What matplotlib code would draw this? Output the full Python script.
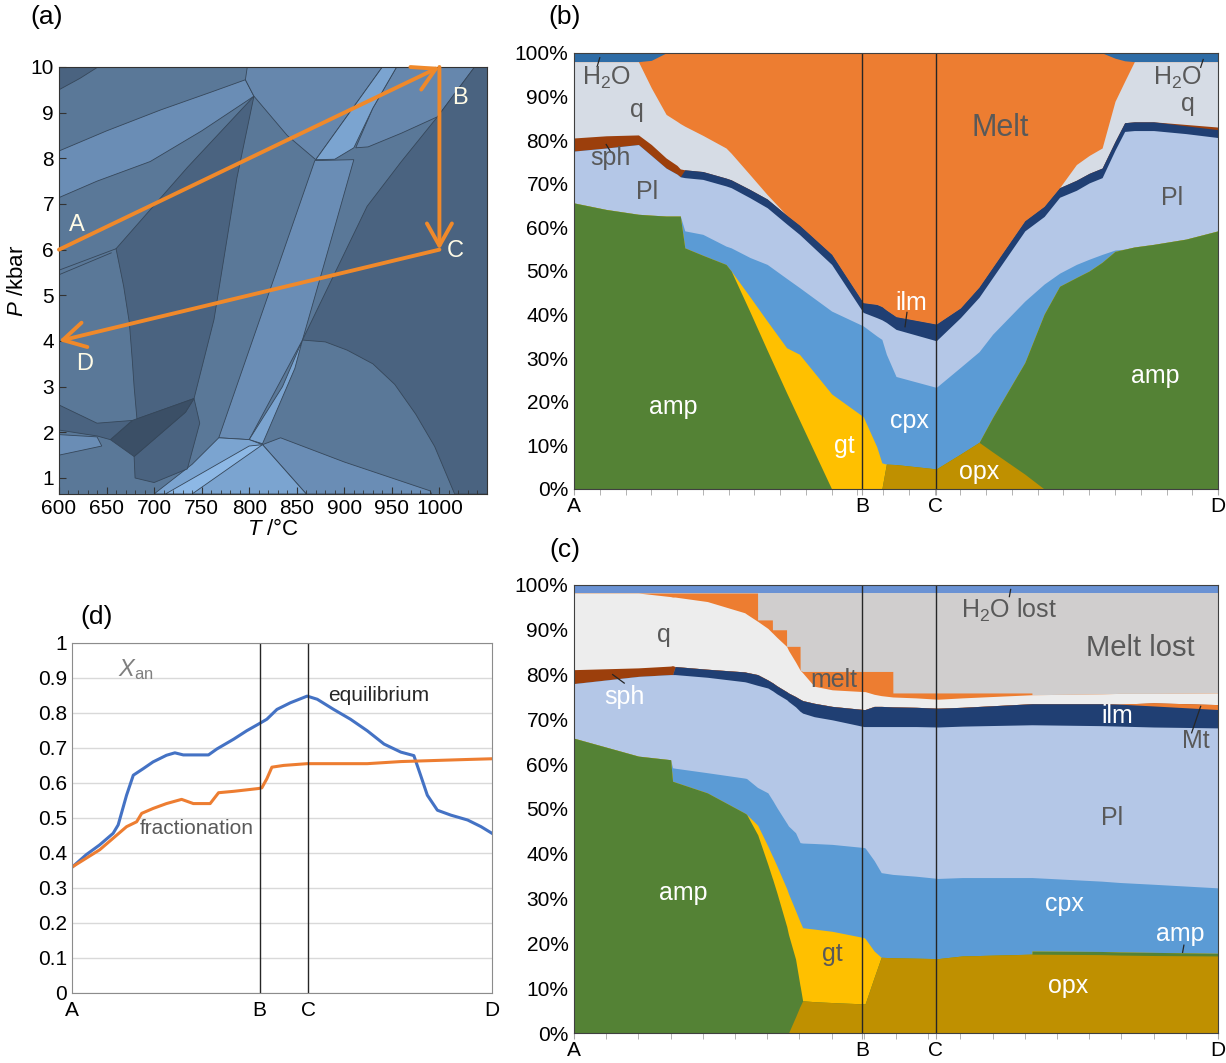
import numpy as np
import matplotlib
matplotlib.use('Agg')
import matplotlib.pyplot as plt
from matplotlib.patches import Polygon
from matplotlib.ticker import MultipleLocator

plt.rcParams['font.family'] = ['Liberation Sans', 'DejaVu Sans']
plt.rcParams['mathtext.fontset'] = 'custom'
plt.rcParams['mathtext.rm'] = 'Liberation Sans'
plt.rcParams['mathtext.it'] = 'Liberation Sans:italic'

# ---------------------------------------------------------------- (a) pseudosection
# shades of the phase fields
c_darkest = '#3b4f66'
c_dark = '#4a6380'
c_mid = '#5a7898'
c_midlight = '#6687ad'
c_light = '#6a8db5'
c_lighter = '#7ba4d0'
c_lightest = '#8db8e5'

# field outlines (T in degC, P in kbar)
fields = [
    (c_dark, [(600, 10), (641, 10), (622, 9.75), (600, 9.5)]),
    (c_light, [(600, 8.16), (650, 8.6), (707, 9.06), (760, 9.45), (796, 9.72), (805, 9.36),
               (750, 8.6), (696, 7.93), (640, 7.5), (600, 7.14)]),
    (c_midlight, [(798, 10), (940, 10), (870, 7.97), (840, 8.5), (805, 9.36), (796, 9.72)]),
    (c_dark, [(660, 6.02), (735, 7.8), (805, 9.36), (787, 7.56), (763, 4.47), (742, 2.74),
              (682, 2.29), (679, 3.0), (677, 3.6), (674, 4.4), (668, 5.2)]),
    (c_midlight, [(955, 10), (1037, 10), (998, 8.91), (960, 8.55), (925, 8.25), (912, 8.23),
                  (930, 9.1)]),
    (c_lighter, [(870, 7.97), (940, 10), (955, 10), (930, 9.1), (910, 8.23), (890, 7.98)]),
    (c_light, [(869, 7.95), (910, 7.97), (890, 6.5), (856, 4.02), (800, 1.84), (768, 1.88)]),
    (c_lighter, [(856, 4.02), (848, 3.4), (814, 1.75), (800, 1.84), (835, 3.0)]),
    (c_dark, [(1051, 10), (1037, 10), (998, 8.91), (960, 7.93), (924, 6.95), (856, 4.02),
              (880, 3.98), (903, 3.8), (930, 3.5), (953, 3.05), (975, 2.4), (995, 1.69),
              (1016, 0.65), (1051, 0.65)]),
    (c_light, [(814, 1.73), (833, 1.88), (900, 1.35), (990, 0.72), (992, 0.65), (860, 0.65)]),
    (c_lighter, [(768, 1.88), (800, 1.84), (814, 1.73), (860, 0.65), (700, 0.65), (740, 1.3)]),
    (c_lightest, [(712, 0.65), (800, 1.7), (814, 1.73), (740, 0.65)]),
    (c_dark, [(679, 1.47), (733, 2.44), (742, 2.74), (748, 2.2), (735, 1.2), (700, 0.9),
              (680, 1.0)]),
    (c_darkest, [(654, 1.84), (677, 2.26), (742, 2.74), (733, 2.44), (679, 1.47)]),
    (c_dark, [(600, 2.6), (640, 2.2), (677, 2.26), (654, 1.84), (640, 1.92), (600, 2.05)]),
    (c_light, [(600, 1.95), (640, 1.9), (645, 1.7), (600, 1.5)]),
]

# P-T path A -> B -> C -> D
path_T = [600, 1000, 1000, 600]
path_P = [6, 10, 6, 4]
path_names = ['A', 'B', 'C', 'D']

# ---------------------------------------------------------------- common x axis
pos_B, pos_C = 0.447, 0.562
path_ticks = [0, pos_B, pos_C, 1]

# ---------------------------------------------------------------- (b) equilibrium modes
# upper boundary of each field, cumulative %
xb = [0, 0.05, 0.10, 0.12, 0.143, 0.160, 0.165, 0.172, 0.20, 0.236, 0.244, 0.273, 0.30,
      0.33, 0.35, 0.40, 0.449, 0.47, 0.478, 0.485, 0.50, 0.5625, 0.60, 0.629, 0.65, 0.70,
      0.73, 0.754, 0.78, 0.80, 0.82, 0.84, 0.855, 0.87, 0.90, 0.95, 1.0]
b_opx = [0, 0, 0, 0, 0, 0, 0, 0, 0, 0, 0, 0, 0, 0, 0, 0, 0, 0, 0, 5.7, 5.6, 4.6, 8.0, 10.7,
         8.5, 3.4, 0, 0, 0, 0, 0, 0, 0, 0, 0, 0, 0]
b_amp = [65.6, 64.1, 63.0, 62.8, 62.6, 62.6, 62.6, 55.3, 53.6, 51.5, 50.0, 40.7, 31.8, 22.1,
         15.8, 0, 0, 0, 0, 5.7, 5.6, 4.6, 8.0, 10.7, 16.4, 29.0, 40.1, 46.5, 48.5, 50.0,
         52.0, 54.5, 55.0, 55.5, 56.1, 57.3, 59.2]
b_gt = [65.6, 64.1, 63.0, 62.8, 62.6, 62.6, 62.6, 55.3, 53.6, 51.5, 50.0, 44.1, 38.5, 32.4,
        30.9, 21.8, 16.6, 9.7, 6.0, 5.7, 5.6, 4.6, 8.0, 10.7, 16.4, 29.0, 40.1, 46.5, 48.5,
        50.0, 52.0, 54.5, 55.0, 55.5, 56.1, 57.3, 59.2]
b_cpx = [65.6, 64.1, 63.0, 62.8, 62.6, 62.6, 62.6, 59.2, 58.4, 55.7, 55.3, 53.1, 51.5, 48.3,
         46.2, 40.8, 37.4, 35.1, 34.3, 30.9, 25.8, 23.3, 27.9, 31.5, 35.5, 43.1, 47.0, 49.5,
         51.5, 52.7, 53.8, 54.8, 55.0, 55.5, 56.1, 57.3, 59.2]
b_pl = [77.5, 78.2, 79.0, 76.5, 73.6, 72.2, 71.6, 71.4, 71.0, 69.5, 69.1, 66.8, 64.5, 60.8,
        58.4, 51.5, 40.5, 39.3, 38.8, 38.2, 36.6, 34.0, 39.3, 44.0, 48.5, 59.2, 62.5, 66.9,
        68.5, 70.2, 71.4, 77.7, 82.0, 82.2, 82.2, 81.5, 80.6]
b_ilm = [77.5, 78.2, 79.0, 76.5, 73.6, 72.2, 71.6, 73.2, 72.8, 71.3, 70.9, 68.7, 66.5, 62.8,
         60.5, 53.8, 42.7, 42.3, 41.8, 41.0, 39.5, 37.8, 41.5, 46.3, 50.8, 61.5, 64.8, 69.1,
         70.8, 72.4, 73.6, 79.7, 84.0, 84.2, 84.2, 83.3, 82.4]
b_sph = [80.5, 81.0, 81.2, 79.0, 75.9, 74.2, 73.4, 73.2, 72.8, 71.3, 70.9, 68.7, 66.5, 62.8,
         60.5, 53.8, 42.7, 42.3, 41.8, 41.0, 39.5, 37.8, 41.5, 46.3, 50.8, 61.5, 64.8, 69.1,
         70.8, 72.4, 73.6, 79.7, 84.0, 84.2, 84.2, 83.6, 83.0]
b_q = [98.0, 98.0, 98.0, 92.0, 85.9, 84.3, 83.8, 83.2, 81.1, 78.2, 77.0, 72.1, 67.5, 62.8,
       60.5, 53.8, 42.7, 42.3, 41.8, 41.0, 39.5, 37.8, 41.5, 46.3, 50.8, 61.5, 64.8, 69.1,
       74.4, 76.5, 78.2, 88.9, 93.5, 98.0, 98.0, 98.0, 98.0]
b_melt = [98.0, 98.0, 98.0, 98.3, 100, 100, 100, 100, 100, 100, 100, 100, 100, 100, 100, 100,
          100, 100, 100, 100, 100, 100, 100, 100, 100, 100, 100, 100, 100, 100, 100, 98.8,
          98.2, 98.0, 98.0, 98.0, 98.0]
b_h2o = [100] * len(xb)

# ---------------------------------------------------------------- (c) fractional melting
xc = [0, 0.10, 0.150, 0.153, 0.157, 0.207, 0.265, 0.268, 0.285, 0.2851, 0.301, 0.308,
      0.3081, 0.315, 0.330, 0.3301, 0.333, 0.344, 0.351, 0.3511, 0.355, 0.373, 0.401, 0.450,
      0.452, 0.466, 0.477, 0.495, 0.4951, 0.531, 0.565, 0.603, 0.711, 0.7111, 0.819, 0.847,
      0.90, 1.0]
c_opx = [0, 0, 0, 0, 0, 0, 0, 0, 0, 0, 0, 0, 0, 0, 0, 0, 0, 3.6, 6.0, 6.0, 7.2, 7.0, 6.8,
         6.5, 6.5, 12.4, 16.9, 16.8, 16.8, 16.7, 16.6, 17.2, 17.6, 17.6, 17.5, 17.4, 17.3, 17.2]
c_amp = [65.8, 61.8, 61.0, 56.2, 56.0, 53.6, 49.1, 48.8, 44.3, 44.3, 37.6, 34.5, 34.5, 31.3,
         23.9, 23.9, 22.0, 16.5, 10.5, 10.5, 7.2, 7.0, 6.8, 6.5, 6.5, 12.4, 16.9, 16.8, 16.8,
         16.7, 16.6, 17.2, 17.6, 18.3, 18.2, 18.1, 18.0, 17.8]
c_gt = [65.8, 61.8, 61.0, 56.2, 56.0, 53.6, 49.1, 48.8, 46.4, 46.4, 41.7, 39.5, 39.5, 37.3,
        32.3, 32.3, 31.1, 27.3, 24.8, 24.8, 23.5, 23.2, 22.7, 21.3, 21.1, 18.3, 16.9, 16.8,
        16.8, 16.7, 16.6, 17.2, 17.6, 18.3, 18.2, 18.1, 18.0, 17.8]
c_cpx = [65.8, 61.8, 61.0, 59.2, 59.1, 58.1, 56.9, 56.8, 54.8, 54.8, 53.6, 52.0, 52.0, 50.3,
         46.9, 46.9, 46.2, 44.7, 42.5, 42.5, 42.4, 42.3, 42.1, 41.4, 41.3, 38.5, 35.8, 35.4,
         35.4, 35.0, 34.5, 34.7, 34.7, 34.7, 33.9, 33.6, 33.2, 32.4]
c_pl = [78.0, 79.6, 80.0, 80.0, 80.0, 79.4, 78.4, 78.3, 77.6, 77.6, 77.0, 76.4, 76.4, 75.7,
        74.4, 74.4, 74.0, 72.8, 71.8, 71.8, 71.4, 70.6, 69.9, 68.4, 68.4, 68.4, 68.4, 68.4,
        68.4, 68.4, 68.3, 68.5, 68.8, 68.8, 68.6, 68.5, 68.3, 68.1]
c_ilm = [78.0, 79.6, 80.0, 80.0, 81.8, 81.2, 80.6, 80.5, 80.0, 80.0, 78.8, 78.2, 78.2, 77.5,
         76.2, 76.2, 75.9, 75.1, 74.5, 74.5, 74.2, 73.6, 72.9, 72.2, 72.2, 72.9, 72.9, 72.8,
         72.8, 72.7, 72.5, 72.7, 73.5, 73.5, 73.5, 73.4, 73.0, 72.2]
c_mt = [78.0, 79.6, 80.0, 80.0, 81.8, 81.2, 80.6, 80.5, 80.0, 80.0, 78.8, 78.2, 78.2, 77.5,
        76.2, 76.2, 75.9, 75.1, 74.5, 74.5, 74.2, 73.6, 72.9, 72.2, 72.2, 72.9, 72.9, 72.8,
        72.8, 72.7, 72.5, 72.7, 73.5, 73.5, 73.5, 73.4, 73.7, 73.3]
c_sph = [81.1, 81.5, 81.9, 82.0, 81.8, 81.2, 80.6, 80.5, 80.0, 80.0, 78.8, 78.2, 78.2, 77.5,
         76.2, 76.2, 75.9, 75.1, 74.5, 74.5, 74.2, 73.6, 72.9, 72.2, 72.2, 72.9, 72.9, 72.8,
         72.8, 72.7, 72.5, 72.7, 73.5, 73.5, 73.5, 73.4, 73.7, 73.3]
c_q = [98.2, 98.2, 97.4, 97.3, 97.3, 96.3, 93.8, 93.5, 91.9, 91.9, 90.3, 89.3, 89.3, 88.3,
       86.3, 86.3, 85.4, 82.8, 81.0, 81.0, 80.4, 77.4, 76.6, 76.2, 76.2, 75.6, 75.3, 75.0,
       75.0, 74.8, 74.5, 74.8, 75.5, 75.5, 75.7, 75.8, 75.8, 75.9]
c_melt = [98.2, 98.2, 98.2, 98.2, 98.2, 98.2, 98.2, 98.2, 98.2, 92.2, 92.2, 92.2, 90.0, 90.0,
          90.0, 86.3, 86.3, 86.3, 86.3, 81.0, 80.7, 80.7, 80.7, 80.7, 80.7, 80.7, 80.7, 80.7,
          75.9, 75.9, 75.9, 75.9, 75.9, 75.5, 75.7, 75.8, 75.8, 75.9]
c_lost = [98.2] * len(xc)
c_h2o = [100] * len(xc)

# ---------------------------------------------------------------- (d) X_an of plagioclase
eq_x = [0.002, 0.034, 0.066, 0.098, 0.110, 0.130, 0.146, 0.170, 0.193, 0.225, 0.245, 0.265,
        0.305, 0.325, 0.345, 0.385, 0.416, 0.444, 0.464, 0.488, 0.520, 0.560, 0.584, 0.623,
        0.663, 0.703, 0.743, 0.783, 0.814, 0.830, 0.846, 0.870, 0.902, 0.942, 0.974, 1.0]
eq_xan = [0.361, 0.395, 0.423, 0.456, 0.48, 0.565, 0.622, 0.641, 0.66, 0.679, 0.686, 0.68,
          0.68, 0.68, 0.697, 0.725, 0.749, 0.768, 0.782, 0.81, 0.829, 0.848, 0.839, 0.81,
          0.782, 0.749, 0.711, 0.688, 0.678, 0.622, 0.565, 0.522, 0.508, 0.494, 0.475, 0.456]
fr_x = [0.002, 0.034, 0.066, 0.098, 0.130, 0.154, 0.166, 0.193, 0.225, 0.261, 0.289, 0.329,
        0.349, 0.385, 0.444, 0.452, 0.464, 0.476, 0.504, 0.560, 0.623, 0.703, 0.783, 0.862,
        0.942, 1.0]
fr_xan = [0.361, 0.385, 0.409, 0.442, 0.475, 0.489, 0.513, 0.527, 0.541, 0.553, 0.541, 0.541,
          0.572, 0.576, 0.584, 0.586, 0.612, 0.645, 0.65, 0.655, 0.655, 0.655, 0.661, 0.664,
          0.667, 0.669]

# phase colours
col = dict(opx='#bf9000', amp='#548235', gt='#ffc000', cpx='#5b9bd5', pl='#b4c7e7',
           ilm='#203f73', sph='#9c3f0c', q_b='#d6dce5', q_c='#ededed', melt='#ed7d31',
           h2o_b='#2e6ca6', h2o_c='#6a92d4', lost='#d0cece', mt='#ed7d31')
dark_txt = '#595959'
orange = '#f0892a'
tick_fs = 15
label_fs = 18

fig = plt.figure(figsize=(12.26, 10.63), dpi=100)
ax_a = fig.add_axes([0.0481, 0.5353, 0.3491, 0.4017])
ax_b = fig.add_axes([0.4682, 0.5400, 0.5253, 0.4102])
ax_c = fig.add_axes([0.4682, 0.0282, 0.5253, 0.4215])
ax_d = fig.add_axes([0.0587, 0.0659, 0.3426, 0.3293])

# ---- (a)
ax_a.set_facecolor(c_mid)
for colour, verts in fields:
    ax_a.add_patch(Polygon(verts, closed=True, facecolor=colour, edgecolor='#36475a', lw=0.6))
ax_a.plot([600, 660], [5.55, 6.02], color='#36475a', lw=0.6)
ax_a.plot([600, 655], [5.45, 5.93], color='#36475a', lw=0.6)
for i in range(3):
    ax_a.annotate('', xy=(path_T[i + 1], path_P[i + 1]), xytext=(path_T[i], path_P[i]),
                  arrowprops=dict(arrowstyle='->,head_length=0.8,head_width=0.45',
                                  color=orange, lw=2.8, shrinkA=0, shrinkB=0,
                                  mutation_scale=20), annotation_clip=False)
for name, tx, py in zip(path_names, [619, 1022, 1017, 627], [6.55, 9.32, 5.98, 3.5]):
    ax_a.text(tx, py, name, color='#fffbe6', fontsize=17, ha='center', va='center')
ax_a.set_xlim(600, 1050)
ax_a.set_ylim(0.65, 10)
ax_a.set_xticks(range(600, 1001, 50))
ax_a.set_yticks(range(1, 11))
ax_a.xaxis.set_minor_locator(MultipleLocator(10))
ax_a.tick_params(direction='in', length=5, labelsize=tick_fs, color='#333333')
ax_a.tick_params(which='minor', direction='in', length=3, color='#333333')
ax_a.set_xlabel(r'$T$ /°C', fontsize=16, labelpad=1)
ax_a.set_ylabel(r'$P$ /kbar', fontsize=16, labelpad=2)
for s in ax_a.spines.values():
    s.set_color('#333333')


def draw_fields(ax, x, tops, colours):
    # paint from the uppermost field down so each band covers the ones below it
    for top, c in reversed(list(zip(tops, colours))):
        ax.fill_between(x, 0, top, color=c, linewidth=0)


def style_mode_axes(ax, minor_step):
    ax.set_xlim(0, 1)
    ax.set_ylim(0, 100)
    ax.set_yticks(range(0, 101, 10))
    ax.set_yticklabels([f'{v}%' for v in range(0, 101, 10)])
    ax.set_xticks(path_ticks)
    ax.set_xticklabels(path_names)
    ax.xaxis.set_minor_locator(MultipleLocator(minor_step))
    ax.tick_params(axis='y', length=0, labelsize=tick_fs, pad=4)
    ax.tick_params(axis='x', length=4, labelsize=tick_fs, color='#a6a6a6', pad=2)
    ax.tick_params(axis='x', which='minor', length=4, color='#a6a6a6')
    for s in ax.spines.values():
        s.set_color('#404040')
    for xv in (pos_B, pos_C):
        ax.axvline(xv, color='#262626', lw=1.0)


# ---- (b)
draw_fields(ax_b, xb, [b_opx, b_amp, b_gt, b_cpx, b_pl, b_ilm, b_sph, b_q, b_melt, b_h2o],
            [col['opx'], col['amp'], col['gt'], col['cpx'], col['pl'], col['ilm'],
             col['sph'], col['q_b'], col['melt'], col['h2o_b']])
style_mode_axes(ax_b, 0.04)
lab_b = [('H$_2$O', 0.05, 94.3, dark_txt), ('q', 0.097, 87, dark_txt),
         ('sph', 0.057, 76, dark_txt), ('Pl', 0.113, 68, dark_txt),
         ('ilm', 0.523, 42.7, 'white'),
         ('amp', 0.154, 18.7, 'white'), ('gt', 0.42, 9.9, 'white'),
         ('cpx', 0.521, 15.5, 'white'), ('opx', 0.629, 3.8, 'white'),
         ('amp', 0.902, 26, 'white'), ('Pl', 0.928, 66.8, dark_txt),
         ('H$_2$O', 0.937, 94.3, dark_txt), ('q', 0.953, 88.2, dark_txt)]
for t, xv, yv, c in lab_b:
    ax_b.text(xv, yv, t, color=c, fontsize=label_fs, ha='center', va='center')
ax_b.text(0.662, 82.8, 'Melt', color=dark_txt, fontsize=22, ha='center', va='center')
for (x1, x2), (y1, y2) in [((0.040, 0.036), (98.9, 96.9)), ((0.977, 0.973), (98.5, 96.7)),
                           ((0.050, 0.057), (79.0, 77.3)), ((0.517, 0.514), (40.5, 37.2))]:
    ax_b.plot([x1, x2], [y1, y2], color='#262626', lw=0.9)

# ---- (c)
draw_fields(ax_c, xc, [c_opx, c_amp, c_gt, c_cpx, c_pl, c_ilm, c_mt, c_sph, c_q, c_melt,
                       c_lost, c_h2o],
            [col['opx'], col['amp'], col['gt'], col['cpx'], col['pl'], col['ilm'], col['mt'],
             col['sph'], col['q_c'], col['melt'], col['lost'], col['h2o_c']])
style_mode_axes(ax_c, 0.05)
lab_c = [('q', 0.139, 88.9, dark_txt), ('sph', 0.078, 75.1, 'white'),
         ('melt', 0.403, 78.8, dark_txt), ('H$_2$O lost', 0.675, 94.4, dark_txt),
         ('ilm', 0.844, 70.7, 'white'),
         ('Mt', 0.966, 65.1, dark_txt), ('Pl', 0.835, 48, dark_txt),
         ('amp', 0.169, 31.3, 'white'), ('gt', 0.401, 17.6, dark_txt),
         ('cpx', 0.761, 28.7, 'white'), ('amp', 0.941, 22, 'white'),
         ('opx', 0.768, 10.5, 'white')]
for t, xv, yv, c in lab_c:
    ax_c.text(xv, yv, t, color=c, fontsize=label_fs, ha='center', va='center')
ax_c.text(0.88, 85.9, 'Melt lost', color=dark_txt, fontsize=21, ha='center', va='center')
for (x1, x2), (y1, y2) in [((0.678, 0.676), (99.0, 97.4)), ((0.060, 0.078), (80.0, 78.1)),
                           ((0.959, 0.973), (67.0, 72.9)), ((0.947, 0.945), (19.6, 18.0))]:
    ax_c.plot([x1, x2], [y1, y2], color='#262626', lw=0.9)

# ---- (d)
ax_d.plot(eq_x, eq_xan, color='#4472c4', lw=2.2)
ax_d.plot(fr_x, fr_xan, color='#ed7d31', lw=2.2)
for xv in (pos_B, pos_C):
    ax_d.axvline(xv, color='#262626', lw=1.0)
ax_d.set_xlim(0, 1)
ax_d.set_ylim(0, 1)
yt = np.round(np.arange(0, 1.01, 0.1), 1)
ax_d.set_yticks(yt)
ax_d.set_yticklabels(['0'] + [f'{v:.1f}' for v in yt[1:-1]] + ['1'])
ax_d.set_xticks(path_ticks)
ax_d.set_xticklabels(path_names)
ax_d.tick_params(length=0, labelsize=tick_fs)
ax_d.tick_params(axis='x', pad=6)
ax_d.yaxis.grid(True, color='#d9d9d9', lw=1)
ax_d.set_axisbelow(True)
for s in ax_d.spines.values():
    s.set_color('#8c8c8c')
ax_d.text(0.11, 0.925, r'$X_{\rm an}$', color='#7f7f7f', fontsize=17, ha='left', va='center')
ax_d.text(0.611, 0.85, 'equilibrium', color='#262626', fontsize=15, ha='left', va='center')
ax_d.text(0.162, 0.47, 'fractionation', color=dark_txt, fontsize=15, ha='left', va='center')

# panel letters
for t, xp, yp in [('(a)', 47, 17), ('(b)', 565, 17), ('(c)', 565, 550), ('(d)', 97, 617)]:
    fig.text(xp / 1226, 1 - yp / 1063, t, fontsize=19, ha='center', va='center')

fig.savefig('out.png', dpi=100)
